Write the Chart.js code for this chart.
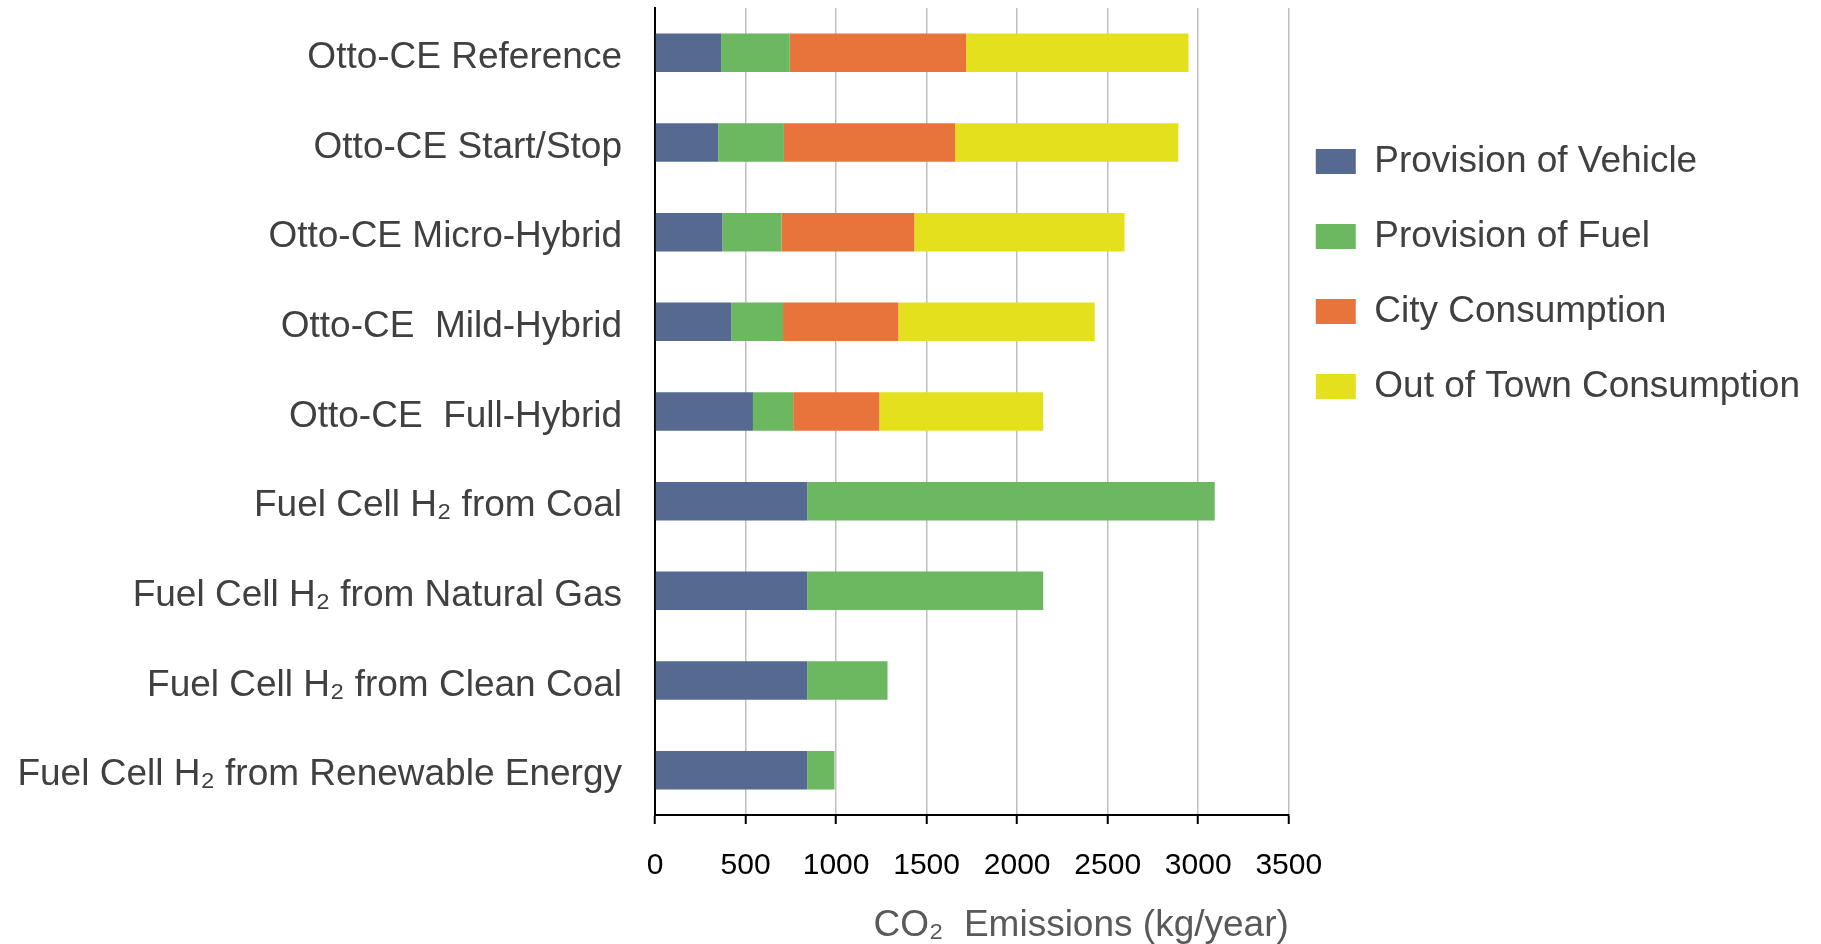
<!DOCTYPE html>
<html>
<head>
<meta charset="utf-8">
<script src="https://cdn.jsdelivr.net/npm/chart.js@4.4.1/dist/chart.umd.min.js"></script>
<style>
  html, body { margin: 0; padding: 0; background: #fff; }
  #wrap { width: 1821px; height: 944px; }
</style>
</head>
<body>
<div id="wrap"><canvas id="co2-bar" width="1821" height="944"></canvas></div>
<script>
const categories = [
  'Otto-CE Reference',
  'Otto-CE Start/Stop',
  'Otto-CE Micro-Hybrid',
  'Otto-CE  Mild-Hybrid',
  'Otto-CE  Full-Hybrid',
  'Fuel Cell H₂ from Coal',
  'Fuel Cell H₂ from Natural Gas',
  'Fuel Cell H₂ from Clean Coal',
  'Fuel Cell H₂ from Renewable Energy'
]

// kg CO2 per year
const vehicle   = [365, 349, 372, 421, 541, 841, 841, 841, 841]
const fuel      = [379, 363, 326, 286, 222, 2250, 1303, 443, 150]
const city      = [974, 946, 734, 637, 476, null, null, null, null]
const outOfTown = [1228, 1232, 1161, 1084, 905, null, null, null, null]

const seriesNames  = ['Provision of Vehicle', 'Provision of Fuel', 'City Consumption', 'Out of Town Consumption']
const seriesColors = ['#566A91', '#6BB860', '#E8743B', '#E5E01D']
const xTicks = [0, 500, 1000, 1500, 2000, 2500, 3000, 3500]

const family = "'Liberation Sans', Arial, sans-serif"

// the legend sits a bit lower/left in the figure than chart.js would put it
const legendOffset = {
  id: 'legendOffset',
  afterLayout(chart) {
    chart.legend.left -= 11
    chart.legend.top += 97
  }
}

const data = {
  labels: categories,
  datasets: [vehicle, fuel, city, outOfTown].map((values, i) => ({
    label: seriesNames[i],
    data: values,
    backgroundColor: seriesColors[i],
    borderWidth: 0,
    barPercentage: 0.43,
    categoryPercentage: 1
  }))
}

const config = {
  type: 'bar',
  data: data,
  options: {
    indexAxis: 'y',
    responsive: false,
    animation: false,
    layout: { padding: { top: 8, left: 0, right: 0, bottom: 0 } },
    scales: {
      x: {
        stacked: true,
        min: 0,
        max: 3500,
        afterBuildTicks: (scale) => { scale.ticks = xTicks.map(v => ({ value: v })) },
        ticks: {
          autoSkip: false,
          maxRotation: 0,
          padding: 24,
          color: '#000',
          font: { family: family, size: 30 },
          callback: (v) => String(v)
        },
        grid: { color: '#BFBFBF', lineWidth: 1.5, tickLength: 9, tickColor: '#000', tickWidth: 2 },
        border: { color: '#000', width: 2 },
        title: {
          display: true,
          text: 'CO₂  Emissions (kg/year)',
          align: 'end',
          color: '#595959',
          font: { family: family, size: 37, lineHeight: 1 },
          padding: { top: 0, bottom: 0 }
        },
        afterFit: (scale) => { scale.height = 129 }
      },
      y: {
        stacked: true,
        ticks: {
          autoSkip: false,
          padding: 0,
          labelOffset: 5,
          color: '#404040',
          font: { family: family, size: 37, lineHeight: 0.3 }
        },
        // gap between labels and axis comes from the (hidden) tick length
        grid: { display: false, drawTicks: true, tickLength: 33 },
        border: { display: true, color: '#000', width: 2 },
        afterFit: (scale) => { scale.width = 655 }
      }
    },
    plugins: {
      legend: {
        position: 'right',
        align: 'start',
        maxWidth: 533,
        labels: {
          usePointStyle: true,
          pointStyle: 'rect',
          pointStyleWidth: 40,
          boxWidth: 40,
          boxHeight: 25,
          padding: 38,
          color: '#404040',
          font: { family: family, size: 37 }
        }
      },
      tooltip: { enabled: false }
    }
  },
  plugins: [legendOffset]
}

let chart = new Chart(document.querySelector('#co2-bar'), config)
</script>
</body>
</html>
